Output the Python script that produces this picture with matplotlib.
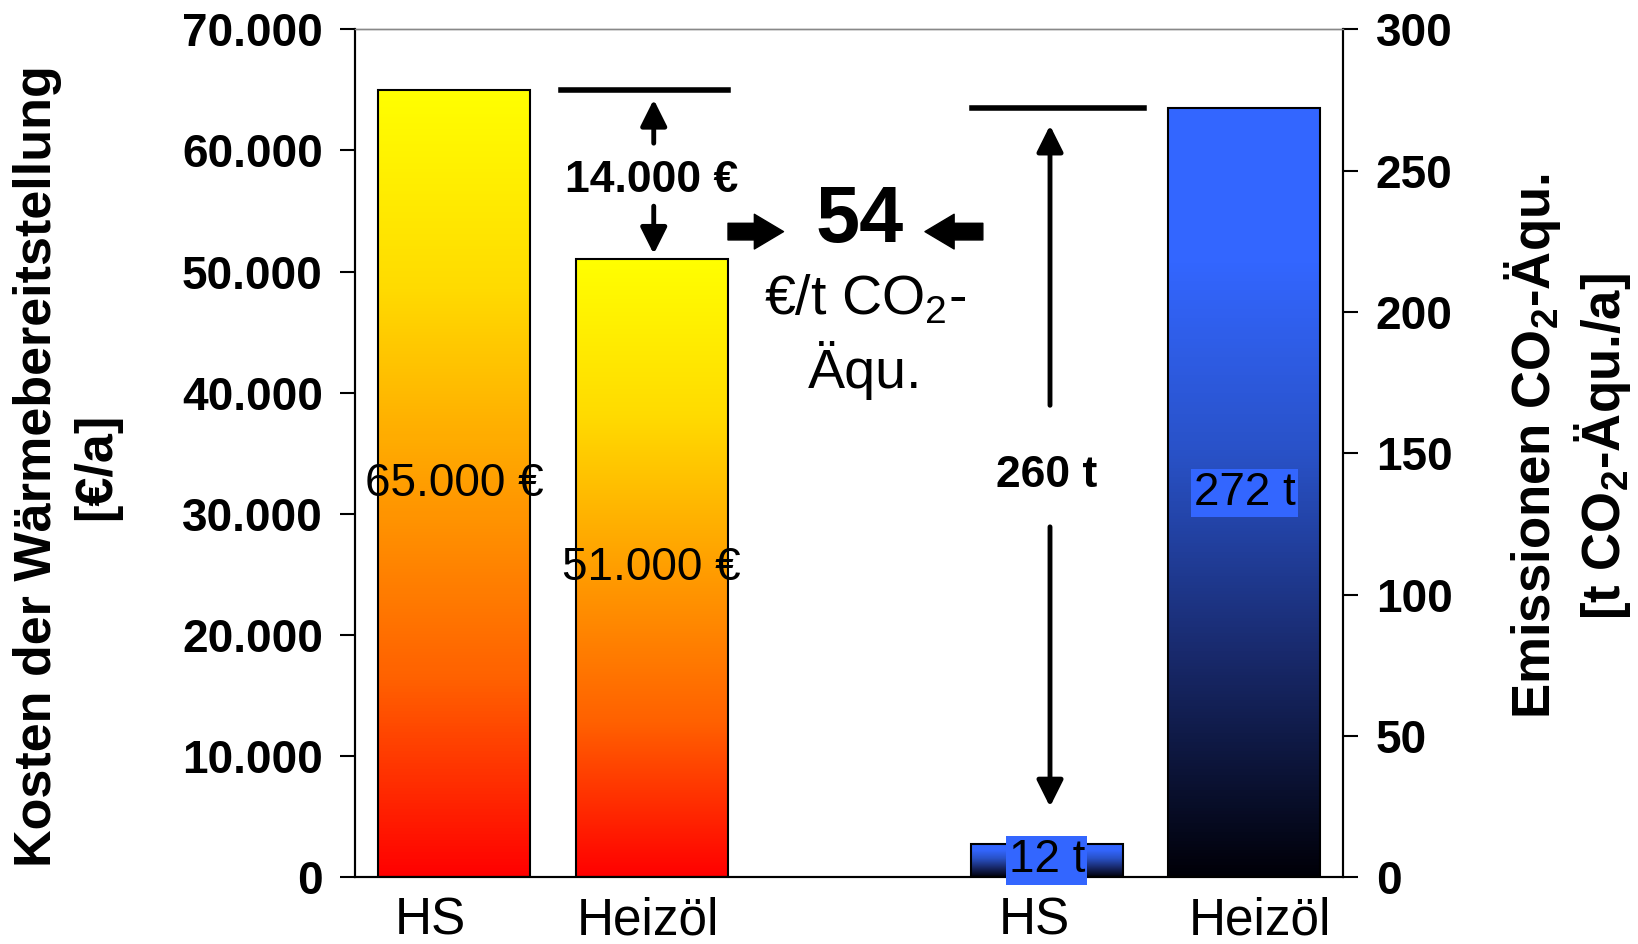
import numpy as np
import matplotlib
matplotlib.use("Agg")
import matplotlib.pyplot as plt
import matplotlib.transforms as mtransforms
from matplotlib.colors import LinearSegmentedColormap
from matplotlib.ticker import FuncFormatter

plt.rcParams['font.family'] = ['Liberation Sans', 'DejaVu Sans']
plt.rcParams['mathtext.fontset'] = 'custom'
plt.rcParams['mathtext.rm'] = 'Liberation Sans'
plt.rcParams['mathtext.bf'] = 'Liberation Sans:bold'

# Daten
kategorien = ["HS", "Heizöl"]
kosten = [65000, 51000]          # €/a
emissionen = [12, 272]           # t CO2-Äqu./a
pos_kosten = [0, 1]
pos_emis = [3, 4]

diff_kosten = kosten[0] - kosten[1]
diff_emis = emissionen[1] - emissionen[0]
vermeidung = diff_kosten / diff_emis

cmap_kosten = LinearSegmentedColormap.from_list(
    "kosten", [(0, (1, 0, 0)), (0.25, (1, 0.38, 0)), (0.5, (1, 0.62, 0)),
               (0.75, (1, 0.86, 0)), (1, (1, 1, 0))])
cmap_emis = LinearSegmentedColormap.from_list(
    "emis", [(0, (0, 0, 0.03)), (0.3, (0.1, 0.17, 0.44)), (0.55, (0.16, 0.32, 0.78)),
             (0.8, (0.2, 0.4, 1)), (1, (0.2, 0.4, 1))])

fig = plt.figure(figsize=(16.38, 9.44), dpi=100)
ax = fig.add_axes([0.217, 0.0705, 0.603, 0.8985])
ax2 = ax.twinx()

def gradient_bars(a, xs, vals, cmap, w=0.77):
    bars = a.bar(xs, vals, width=w, facecolor='none', edgecolor='black', linewidth=1.5, zorder=3)
    grad = np.linspace(0, 1, 256).reshape(-1, 1)
    for b in bars:
        x0 = b.get_x()
        img = a.imshow(grad, extent=[x0, x0 + b.get_width(), 0, b.get_height()],
                       aspect='auto', origin='lower', cmap=cmap, zorder=2)
        img.set_clip_path(b)
    return bars

gradient_bars(ax, pos_kosten, kosten, cmap_kosten)
gradient_bars(ax2, pos_emis, emissionen, cmap_emis)

ax.set_xlim(-0.5, 4.5)
ax.set_ylim(0, 70000)
ax2.set_ylim(0, 300)
ax.set_yticks(np.arange(0, 70001, 10000))
ax2.set_yticks(np.arange(0, 301, 50))
ax.yaxis.set_major_formatter(FuncFormatter(lambda v, p: f"{int(v):,}".replace(",", ".")))
ax.set_xticks(pos_kosten + pos_emis)
ax.set_xticklabels(kategorien + kategorien)

for a in (ax, ax2):
    a.tick_params(axis='y', length=10.5, width=1.5, pad=13, labelsize=33, direction='out')
    a.tick_params(axis='x', length=0, pad=14, labelsize=37)
    for lab in a.get_yticklabels():
        lab.set_fontweight('bold')
    a.spines['top'].set_color('#888888')
    a.spines['top'].set_linewidth(1)
    for s in ('left', 'right', 'bottom'):
        a.spines[s].set_linewidth(1.5)

# Kategorienbeschriftung leicht versetzt wie im Original
verschiebung = [-24, -4, -12, 16]
for lab, dx in zip(ax.get_xticklabels(), verschiebung):
    lab.set_transform(lab.get_transform() + mtransforms.Affine2D().translate(dx, 0))

# Werte in den Balken
for x, v in zip(pos_kosten, kosten):
    ax.text(x, v / 2, f"{v:,} €".replace(",", "."), ha='center', va='center', fontsize=33, zorder=5)
for x, v in zip(pos_emis, emissionen):
    ax2.text(x, v / 2, f"{v} t", ha='center', va='center', fontsize=33, zorder=5,
             bbox=dict(boxstyle='square,pad=0.05', fc='#3366FF', ec='none'))

# Differenz Kosten
ax.plot([0.54, 1.386], [kosten[0], kosten[0]], color='black', lw=4, zorder=4)
arr = dict(arrowstyle='-|>,head_length=0.8,head_width=0.4', color='black', lw=3.5,
           mutation_scale=20, shrinkA=0, shrinkB=0)
ax.annotate('', xy=(1.01, 64200), xytext=(1.01, 60600), arrowprops=arr)
ax.annotate('', xy=(1.01, 51450), xytext=(1.01, 55400), arrowprops=arr)
ax.text(1.0, 57500, f"{diff_kosten:,} €".replace(",", "."), ha='center', va='center',
        fontsize=32, fontweight='bold')

# Differenz Emissionen
ax2.plot([2.62, 3.49], [emissionen[1], emissionen[1]], color='black', lw=4, zorder=4)
ax2.annotate('', xy=(3.016, 266), xytext=(3.016, 167), arrowprops=arr)
ax2.annotate('', xy=(3.016, 25), xytext=(3.016, 124), arrowprops=arr)
ax2.text(3.0, 142, f"{diff_emis} t", ha='center', va='center', fontsize=32, fontweight='bold')

# Vermeidungskosten
ax.text(2.05, 54100, f"{vermeidung:.0f}", ha='center', va='center', fontsize=57, fontweight='bold')
ax.text(2.08, 47700, "€/t CO$_2$-", ha='center', va='center', fontsize=40)
ax.text(2.08, 41800, "Äqu.", ha='center', va='center', fontsize=40)
block = dict(arrowstyle='simple,head_length=2.1,head_width=2.5,tail_width=1.2',
             fc='black', ec='black', mutation_scale=10, shrinkA=0, shrinkB=0)
ax.annotate('', xy=(1.667, 53300), xytext=(1.386, 53300), arrowprops=block)
ax.annotate('', xy=(2.383, 53300), xytext=(2.676, 53300), arrowprops=block)

fig.text(0.041, 0.506, "Kosten der Wärmebereitstellung\n[€/a]", rotation=90,
         ha='center', va='center', multialignment='center', fontsize=37.5,
         fontweight='bold', linespacing=1.25)
fig.text(0.957, 0.527, "Emissionen CO$_{\\mathbf{2}}$-Äqu.\n[t CO$_{\\mathbf{2}}$-Äqu./a]",
         rotation=90, ha='center', va='center', multialignment='center', fontsize=38,
         fontweight='bold', linespacing=1.2)

fig.savefig("out.png", dpi=100)
